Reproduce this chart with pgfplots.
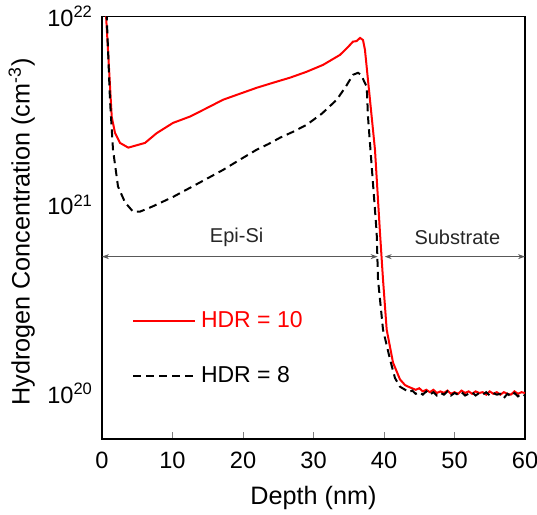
\documentclass[border=0pt]{standalone}
\usepackage{pgfplots}
\pgfplotsset{compat=1.18}
\usepackage{fontspec}
\setmainfont{Liberation Sans}
\usetikzlibrary{arrows.meta}

\begin{document}
\begin{tikzpicture}
\begin{axis}[
  name=ax,
  width=211.5pt, height=211.25pt, scale only axis,
  xmin=0, xmax=60, ymode=log, ymin=5.7e19, ymax=1e22,
  xtick={0,10,...,60}, tick pos=bottom, tick align=inside,
  major tick length=3.5pt, minor tick length=0pt,
  ytick={1e20,1e21,1e22},
  yticklabels={10\textsuperscript{20},10\textsuperscript{21},10\textsuperscript{22}},
  ytick style={draw=none}, yminorticks=false,
  /pgf/number format/assume math mode=true,
  tick label style={font=\fontsize{11.8}{13}\selectfont},
  xticklabel style={yshift=-3pt},
  yticklabel style={xshift=-1pt},
  axis line style={line width=0.9pt},
  xlabel={Depth (nm)},
  ylabel={Hydrogen Concentration (cm\textsuperscript{-3})},
  label style={font=\fontsize{12.6}{14}\selectfont},
  xlabel style={at={(axis description cs:0.5,-0.14)}, anchor=center},
  ylabel style={at={(axis description cs:-0.19,0.49)}, anchor=center},
  legend cell align=left,
  legend style={draw=none, fill=none, at={(rel axis cs:0.07,0.115)}, anchor=south west,
    font=\fontsize{11.5}{13}\selectfont, row sep=14pt, inner sep=0pt,
    nodes={inner xsep=2.5pt}},
  legend image code/.code={\draw[#1] (0pt,0pt) -- (31pt,0pt);},
]
\addplot[red, line width=1pt] coordinates {
(0.55,1.05e22)(1.38,2.93e21)(1.84,2.41e21)(2.55,2.13e21)(3.73,2.01e21)
(6.10,2.13e21)(7.76,2.40e21)(10.07,2.72e21)(12.48,2.94e21)(15,3.28e21)(17.16,3.61e21)
(19.5,3.88e21)(21.94,4.18e21)(24.3,4.45e21)(26.67,4.73e21)(29,5.08e21)(31.35,5.53e21)
(33.76,6.25e21)(35.0,6.95e21)(35.6,7.35e21)(36.1,7.40e21)(36.6,7.69e21)(37.02,7.50e21)
(37.30,6.64e21)(38.01,3.61e21)(38.72,1.96e21)(39.43,7.10e20)(39.86,4.00e20)
(40.38,2.17e20)(41.28,1.45e20)(42.27,1.18e20)(43.0,1.10e20)(43.69,1.07e20)
(44.5,1.04e20)(45,1.06e20)(45.5,1.02e20)(46,1.04e20)(46.5,1.01e20)(47,1.04e20)
(47.5,1.00e20)(48,1.02e20)(48.5,1.00e20)(49,1.03e20)(49.5,0.99e20)(50,1.01e20)
(50.5,0.99e20)(51,1.03e20)(51.5,1.00e20)(52,1.02e20)(52.5,0.99e20)(53,1.02e20)
(53.5,1.00e20)(54,1.01e20)(54.5,0.98e20)(55,1.02e20)(55.5,0.99e20)(56,1.01e20)
(56.5,0.98e20)(57,1.01e20)(57.5,0.99e20)(58,0.98e20)(58.5,1.02e20)(59,0.99e20)
(59.5,1.01e20)(60,1.00e20)
};
\addplot[black, line width=1pt, dash pattern=on 4pt off 2.5pt] coordinates {
(0.65,1.05e22)(1.13,3.61e21)(1.56,1.96e21)(2.27,1.25e21)(3.26,1.03e21)(4.40,9.19e20)
(5.39,9.19e20)(7.09,9.76e20)(10.07,1.10e21)(12.48,1.23e21)(14.8,1.37e21)(17.16,1.53e21)
(19.5,1.73e21)(21.94,1.96e21)(23.6,2.10e21)(25.25,2.27e21)(27.2,2.45e21)(29.04,2.66e21)
(31.2,3.05e21)(33.29,3.61e21)(34.6,4.25e21)(35.6,4.90e21)(36.31,5.02e21)(36.74,4.90e21)
(37.55,4.23e21)(37.73,2.93e21)(38.26,1.59e21)(38.96,7.10e20)(39.15,4.00e20)
(39.86,2.17e20)(40.85,1.51e20)(41.56,1.20e20)(42.27,1.08e20)(43,1.04e20)
(43.5,1.01e20)(44,1.03e20)(44.5,0.99e20)(45,1.01e20)(45.5,0.98e20)(46,1.02e20)
(46.5,0.98e20)(47,1.01e20)(47.5,0.97e20)(48,1.00e20)(48.5,0.98e20)(49,1.02e20)
(49.5,0.97e20)(50,1.00e20)(50.5,0.98e20)(51,1.01e20)(51.5,0.97e20)(52,0.99e20)
(52.5,1.01e20)(53,0.97e20)(53.5,1.00e20)(54,0.98e20)(54.5,1.01e20)(55,0.97e20)
(55.5,1.00e20)(56,0.98e20)(56.5,0.99e20)(57,0.94e20)(57.5,0.99e20)(58,0.96e20)
(58.5,1.00e20)(59,0.96e20)(59.5,0.99e20)(60,0.97e20)
};
\legend{\textcolor{red}{HDR = 10}, HDR = 8}
\draw[black!65, line width=0.5pt, {Stealth[length=3.5pt,width=2.5pt]}-{Stealth[length=3.5pt,width=2.5pt]}]
  (axis cs:0,5.3e20) -- (axis cs:39.1,5.3e20);
\draw[black!65, line width=0.5pt, {Stealth[length=3.5pt,width=2.5pt]}-{Stealth[length=3.5pt,width=2.5pt]}]
  (axis cs:40.1,5.3e20) -- (axis cs:60,5.3e20);
\node[font=\fontsize{10}{12}\selectfont, text=black!85] at (axis cs:19.1,6.7e20) {Epi-Si};
\node[font=\fontsize{10}{12}\selectfont, text=black!85] at (axis cs:50.4,6.7e20) {Substrate};
\end{axis}
\pgfresetboundingbox
\path ([xshift=-51pt,yshift=-37.5pt]ax.south west) rectangle ([xshift=6pt,yshift=8.25pt]ax.north east);
\end{tikzpicture}
\end{document}
